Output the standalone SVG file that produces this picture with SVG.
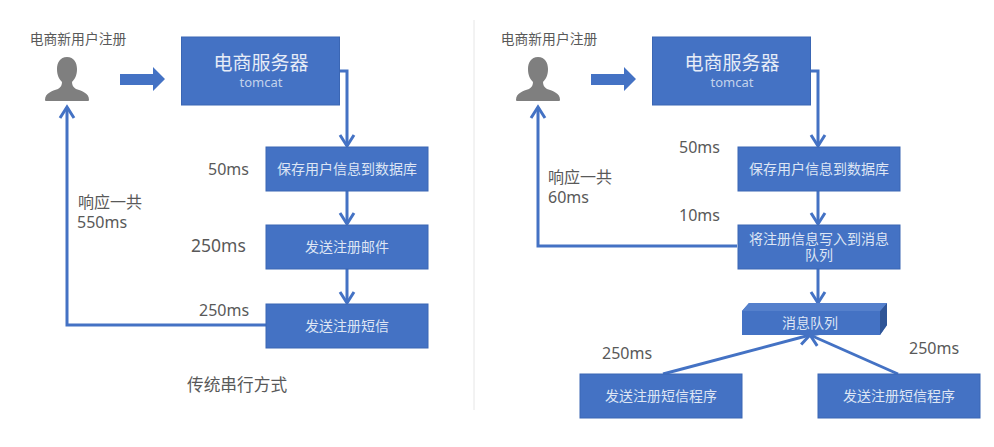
<svg xmlns="http://www.w3.org/2000/svg" width="994" height="447" viewBox="0 0 994 447">
<style>
text{font-family:"Noto Sans CJK SC","Noto Sans",sans-serif;text-anchor:middle}
.box{fill:#4472c4;stroke:#3a66b4;stroke-width:1}
.w{fill:#dde5f4;font-size:14px}
.t{fill:#595959;font-size:16px;text-anchor:start;font-family:"Noto Sans","Noto Sans CJK SC",sans-serif}
.c{fill:#595959;font-size:16px;text-anchor:start}
.cap{fill:#595959;font-size:13.800px}
.big{fill:#e6ecf7;font-size:19px}
.sub{fill:#c3d2ec;font-size:13px;font-family:"Noto Sans",sans-serif}
.line{fill:none;stroke:#4472c4;stroke-width:3;marker-end:url(#a)}
.person{fill:#7f7f7f}
</style>
<defs>
<marker id="a" markerUnits="userSpaceOnUse" markerWidth="18" markerHeight="18" refX="14" refY="9" orient="auto"><path d="M3 2L14 9L3 16" fill="none" stroke="#4472c4" stroke-width="3"/></marker>
<path id="p" d="M0-30C-7-30-10-24-10-18C-10-12-8-8-5-5C-5-2-6 0-9 2C-15 4-22 6-22 13Q-22 14-21 14L21 14Q22 14 22 13C22 6 15 4 9 2C6 0 5-2 5-5C8-8 10-12 10-18C10-24 7-30 0-30Z"/>
</defs>
<g id="connectors">
<path class="line" d="M340 71H347V146"/>
<path class="line" d="M347 191V224"/>
<path class="line" d="M347 269V303"/>
<path class="line" d="M266 325H67V107"/>
<path class="line" d="M811 71H818V146"/>
<path class="line" d="M818 191V224"/>
<path class="line" d="M818 269V303"/>
<path class="line" d="M737 246H538V107"/>
<path class="line" d="M663 374L810 335"/>
<path class="line" d="M898 374L810 335"/>
<path d="M120 74H153V67L165 79L153 91V85H120Z" fill="#4472c4"/>
<path d="M591 74H624V67L636 79L624 91V85H591Z" fill="#4472c4"/>
<line x1="474" y1="20" x2="474" y2="410" stroke="#e6e6e6"/>
</g>
<g id="user1"><use href="#p" class="person" x="67" y="87"/><text class="cap" x="78" y="44">电商新用户注册</text></g>
<g id="server1"><rect class="box" x="181.500" y="37" width="158" height="68"/><text class="big" x="261" y="70">电商服务器</text><text class="sub" x="261" y="87">tomcat</text></g>
<g id="save1"><rect class="box" x="266" y="147" width="162" height="44"/><text class="w" x="347" y="174">保存用户信息到数据库</text></g>
<g id="mail1"><rect class="box" x="266" y="225" width="162" height="44"/><text class="w" x="347" y="252">发送注册邮件</text></g>
<g id="sms1"><rect class="box" x="266" y="304" width="162" height="44"/><text class="w" x="347" y="331">发送注册短信</text></g>
<g id="labels1">
<text class="t" x="208" y="175">50ms</text>
<text class="t" x="191" y="252" style="font-size:17.500px">250ms</text>
<text class="t" x="199" y="316">250ms</text>
<text class="c" x="78" y="208">响应一共</text>
<text class="t" x="77" y="228">550ms</text>
<text class="c" x="187" y="391" style="font-size:16.700px">传统串行方式</text>
</g>
<g id="user2"><use href="#p" class="person" x="538" y="87"/><text class="cap" x="549" y="44">电商新用户注册</text></g>
<g id="server2"><rect class="box" x="652.500" y="37" width="158" height="68"/><text class="big" x="732" y="70">电商服务器</text><text class="sub" x="732" y="87">tomcat</text></g>
<g id="save2"><rect class="box" x="738" y="147" width="162" height="44"/><text class="w" x="819" y="174">保存用户信息到数据库</text></g>
<g id="write2"><rect class="box" x="738" y="225" width="162" height="44"/><text class="w"><tspan x="819" y="244">将注册信息写入到消息</tspan><tspan x="819" y="260">队列</tspan></text></g>
<g id="queue"><path d="M742 311L749 303H887V325L880 335H742Z" fill="#4472c4"/><path d="M880 311L887 303V325L880 335Z" fill="#2f5597"/><path d="M742 311L749 303H887L880 311Z" fill="#5580cc"/><text class="w" x="810" y="328">消息队列</text></g>
<g id="sender1"><rect class="box" x="580" y="374" width="162" height="44"/><text class="w" x="661" y="401">发送注册短信程序</text></g>
<g id="sender2"><rect class="box" x="818" y="374" width="162" height="44"/><text class="w" x="899" y="401">发送注册短信程序</text></g>
<g id="labels2">
<text class="t" x="679" y="153">50ms</text>
<text class="t" x="679" y="221">10ms</text>
<text class="c" x="548" y="183">响应一共</text>
<text class="t" x="548" y="203">60ms</text>
<text class="t" x="602" y="359">250ms</text>
<text class="t" x="909" y="354">250ms</text>
</g>
</svg>
